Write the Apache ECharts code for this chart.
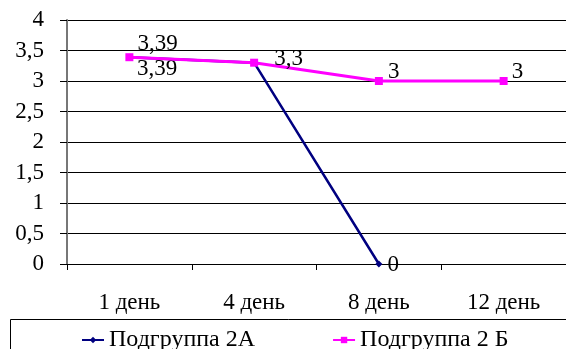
<!DOCTYPE html>
<html><head><meta charset="utf-8">
<script src="https://cdn.jsdelivr.net/npm/echarts@6/dist/echarts.min.js"></script>
<style>html,body{margin:0;padding:0;background:#fff}#c{width:566px;height:349px}</style>
</head><body><div id="c"></div>
<script>
var categories = ['1 день', '4 день', '8 день', '12 день'];
var seriesNames = ['Подгруппа 2А', 'Подгруппа 2 Б'];
var values2A = [3.39, 3.3, 0, null];
var values2B = [3.39, 3.3, 3, 3];
var yTicks = [0, 0.5, 1, 1.5, 2, 2.5, 3, 3.5, 4];

var FONT = "'Liberation Serif', 'Times New Roman', serif";
var FS = 23;
function fmt(v){ return String(v).replace('.', ','); }

var lbl2A = [
  {show:true, position:'right', distance:4, offset:[0,12]},
  {show:false},
  {show:true, position:'right', distance:5, offset:[0,1]},
  {show:false}
];
var lbl2B = [
  {show:true, position:'right', distance:4, offset:[0,-13]},
  {show:true, position:'right', distance:16, offset:[0,-4]},
  {show:true, position:'right', distance:5, offset:[0,-9]},
  {show:true, position:'right', distance:4, offset:[0,-9]}
];
function build(vals, lbls){
  return vals.map(function(v,i){ return {value:v, label:lbls[i]}; });
}
var chart = echarts.init(document.getElementById('c'), null, {renderer:'canvas'});
chart.setOption({
  animation:false,
  backgroundColor:'#fff',
  textStyle:{fontFamily:FONT},
  grid:{left:67, right:0, top:20, bottom:85},
  xAxis:{
    type:'category', data:categories, boundaryGap:true,
    axisLine:{lineStyle:{color:'#000', width:1}},
    axisTick:{show:true, length:6, interval:0, lineStyle:{color:'#000'}},
    axisLabel:{color:'#000', fontFamily:FONT, fontSize:FS, margin:27, interval:0},
    splitLine:{show:false}
  },
  yAxis:{
    type:'value', min:yTicks[0], max:yTicks[yTicks.length-1], interval:0.5,
    axisLine:{show:true, lineStyle:{color:'#777', width:2}},
    axisTick:{show:true, length:7, lineStyle:{color:'#000'}},
    axisLabel:{color:'#000', fontFamily:FONT, fontSize:FS, margin:23, formatter:function(v){return fmt(v);}},
    splitLine:{show:true, lineStyle:{color:'#000', width:1}}
  },
  legend:{
    top:328, left:81, padding:0, itemGap:77, itemWidth:22, itemHeight:8,
    textStyle:{color:'#000', fontFamily:FONT, fontSize:24},
    data:seriesNames
  },
  graphic:[{type:'rect', shape:{x:10.5, y:319.5, width:570, height:40}, style:{fill:'none', stroke:'#000', lineWidth:1}, silent:true}],
  series:[
    {name:seriesNames[0], type:'line', data:build(values2A, lbl2A), color:'#000080',
     symbol:'diamond', symbolSize:7, lineStyle:{width:2.5, color:'#000080'},
     itemStyle:{color:'#000080'}, connectNulls:false, z:2,
     label:{color:'#000', fontFamily:FONT, fontSize:FS, formatter:function(p){return fmt(p.value);}}},
    {name:seriesNames[1], type:'line', data:build(values2B, lbl2B), color:'#FF00FF',
     symbol:'rect', symbolSize:8, lineStyle:{width:3, color:'#FF00FF'},
     itemStyle:{color:'#FF00FF'}, z:3,
     label:{color:'#000', fontFamily:FONT, fontSize:FS, formatter:function(p){return fmt(p.value);}}}
  ]
});
</script></body></html>
